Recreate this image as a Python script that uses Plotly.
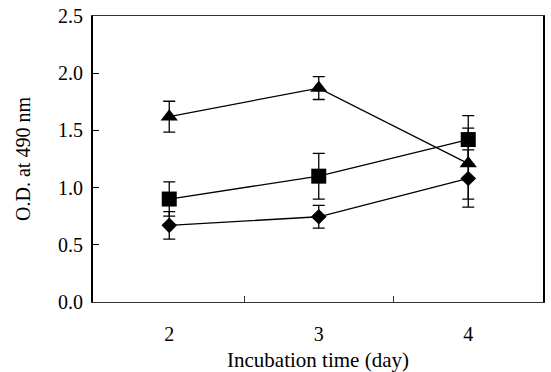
import plotly.graph_objects as go

days = [2, 3, 4]
tri_vals = [1.62, 1.87, 1.21]
tri_err = [0.135, 0.10, 0.31]
sq_vals = [0.90, 1.10, 1.42]
sq_err = [0.15, 0.20, 0.21]
dia_vals = [0.67, 0.745, 1.08]
dia_err = [0.12, 0.10, 0.25]
y_ticks = [0.0, 0.5, 1.0, 1.5, 2.0, 2.5]
y_ticktext = ["0.0", "0.5", "1.0", "1.5", "2.0", "2.5"]

FONT = "Liberation Serif"
fig = go.Figure()

def add(vals, errs, sym, size):
    fig.add_trace(go.Scatter(
        x=days, y=vals, mode="lines+markers",
        line=dict(color="black", width=1.3),
        marker=dict(symbol=sym, size=size, color="black", line=dict(width=0)),
        error_y=dict(type="data", array=errs, visible=True, color="black",
                     thickness=1.3, width=6),
        showlegend=False,
    ))

add(tri_vals, tri_err, "triangle-up", 15)
add(sq_vals, sq_err, "square", 15)
add(dia_vals, dia_err, "diamond", 12)

fig.update_layout(
    width=551, height=372,
    margin=dict(l=93, r=8, t=16, b=70),
    paper_bgcolor="white", plot_bgcolor="white",
    font=dict(family=FONT, color="black", size=20),
)
fig.update_xaxes(
    range=[1.49, 4.5], tickvals=days, ticktext=[str(d) for d in days],
    ticks="", showgrid=False, zeroline=False, automargin=False,
    showline=True, linecolor="#333", linewidth=1.3, mirror=True,
    ticklabelstandoff=14,
    minor=dict(tickvals=[2.5, 3.5], ticks="inside", ticklen=6, tickcolor="#333", tickwidth=1),
    tickfont=dict(family=FONT, size=20),
    title=dict(text="Incubation time (day)", font=dict(family=FONT, size=21), standoff=21),
)
fig.update_yaxes(
    range=[0, 2.5], tickvals=y_ticks, ticktext=y_ticktext,
    ticks="inside", ticklen=6, tickcolor="black", tickwidth=1,
    showgrid=False, zeroline=False, automargin=False,
    showline=True, linecolor="black", linewidth=2, mirror=True,
    ticklabelstandoff=4, ticklabeloverflow="allow",
    tickfont=dict(family=FONT, size=20),
    title=dict(text="O.D. at 490 nm", font=dict(family=FONT, size=20), standoff=22),
)

fig.write_html("out.html", config={"displayModeBar": False},
               post_script="document.body.style.margin='0px';")
